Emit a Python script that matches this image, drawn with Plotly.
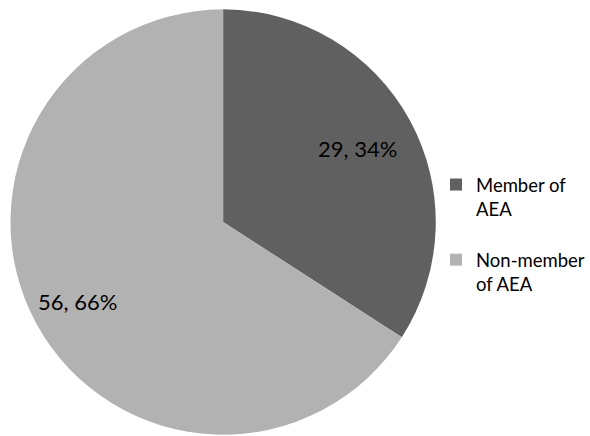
import math
import plotly.graph_objects as go

# Survey respondents by association membership
labels = ["Member of<br>AEA<br> ", "Non-member<br>of AEA<br> "]
counts = [29, 56]
colors = ["#606060", "#b2b2b2"]

W, H = 590, 436
cx, cy, R = 223.5, 222.0, 213.0
label_r = [0.72, 0.78]

total = sum(counts)
fig = go.Figure(go.Pie(
    labels=labels,
    values=counts,
    marker=dict(colors=colors, line=dict(width=0)),
    sort=False,
    direction="clockwise",
    rotation=0,
    textinfo="none",
    hoverinfo="value+percent",
    domain=dict(
        x=[(cx - R) / W, (cx + R) / W],
        y=[max(0.0, 1 - (cy + R) / H), min(1.0, 1 - (cy - R) / H)],
    ),
))

# Data labels "count, percent" placed along each slice's bisector
start = 0.0
for i, v in enumerate(counts):
    frac = v / total
    mid = (start + frac / 2) * 2 * math.pi
    start += frac
    px = cx + label_r[i] * R * math.sin(mid)
    py = cy - label_r[i] * R * math.cos(mid)
    fig.add_annotation(
        x=px / W, y=1 - py / H, xref="paper", yref="paper",
        text=f"{v}, {round(frac * 100)}%", showarrow=False,
        font=dict(size=22, color="#000000", family="Lato"),
        xanchor="center", yanchor="middle",
    )

fig.update_layout(
    width=W, height=H,
    margin=dict(l=0, r=0, t=0, b=0),
    paper_bgcolor="white",
    plot_bgcolor="white",
    font=dict(family="Lato", color="#000000"),
    legend=dict(
        x=437 / W, y=1 - 166 / H, xanchor="left", yanchor="top",
        font=dict(size=18.5, family="Lato"),
        valign="top",
        itemwidth=30,
    ),
)

fig.write_html("out.html")
